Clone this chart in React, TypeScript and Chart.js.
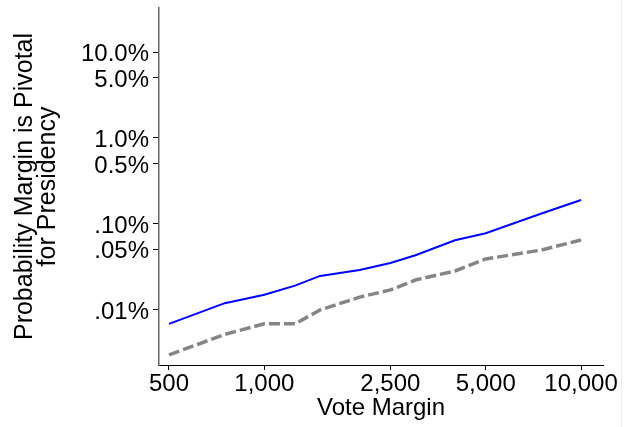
import React, { useEffect, useRef } from "react";
import { Chart, registerables } from "chart.js";

Chart.register(...registerables);

const voteMargins = [500, 750, 1000, 1250, 1500, 2000, 2500, 3000, 4000, 5000, 7500, 10000];
const seriesBlue = [0.0069, 0.0120, 0.0150, 0.0192, 0.0249, 0.0292, 0.0352, 0.0433, 0.0646, 0.0780, 0.1325, 0.1901];
const seriesGray = [0.0030, 0.0052, 0.0069, 0.0069, 0.0100, 0.0141, 0.0171, 0.0223, 0.0284, 0.0392, 0.0498, 0.0651];

const xTickValues = [500, 1000, 2500, 5000, 10000];
const xTickLabels = ["500", "1,000", "2,500", "5,000", "10,000"];
const yTickValues = [0.01, 0.05, 0.1, 0.5, 1, 5, 10];
const yTickLabels = [".01%", ".05%", ".10%", "0.5%", "1.0%", "5.0%", "10.0%"];

const xTitle = "Vote Margin";
const yTitle = ["Probability Margin is Pivotal", "for Presidency"];

const FONT = "'Liberation Sans', Arial, Helvetica, sans-serif";

export default function App() {
  const ref = useRef<HTMLCanvasElement | null>(null);

  useEffect(() => {
    if (!ref.current) return;
    const chart = new Chart(ref.current, {
      type: "line",
      data: {
        datasets: [
          {
            label: "blue",
            data: voteMargins.map((x, i) => ({ x, y: seriesBlue[i] })),
            borderColor: "#0000ff",
            borderWidth: 2,
            pointRadius: 0,
            tension: 0,
          },
          {
            label: "gray",
            data: voteMargins.map((x, i) => ({ x, y: seriesGray[i] })),
            borderColor: "#858585",
            borderWidth: 3.5,
            borderDash: [11, 4],
            pointRadius: 0,
            tension: 0,
          },
        ],
      },
      options: {
        animation: false,
        responsive: true,
        maintainAspectRatio: false,
        layout: { padding: { top: 8, right: 31, left: 0, bottom: 0 } },
        plugins: { legend: { display: false }, tooltip: { enabled: false } },
        scales: {
          x: {
            type: "logarithmic",
            position: "bottom",
            min: 465,
            max: 11730,
            afterBuildTicks: (scale: any) => {
              scale.ticks = xTickValues.map((v) => ({ value: v }));
            },
            afterFit: (scale: any) => {
              scale.height = 62;
              scale.paddingLeft = 0;
              scale.paddingRight = 0;
            },
            ticks: {
              autoSkip: false,
              maxRotation: 0,
              minRotation: 0,
              padding: 2,
              color: "#000",
              font: { family: FONT, size: 24, lineHeight: 1 },
              callback: (value: any) => {
                const i = xTickValues.indexOf(Number(value));
                return i >= 0 ? xTickLabels[i] : "";
              },
            },
            grid: {
              display: true,
              drawOnChartArea: false,
              drawTicks: true,
              tickLength: 5,
              color: "#000",
            },
            border: { display: true, color: "#000", width: 1 },
            title: {
              display: true,
              text: xTitle,
              color: "#000",
              font: { family: FONT, size: 24, lineHeight: 1 },
              padding: { top: 0, bottom: 7 },
            },
          },
          y: {
            type: "logarithmic",
            min: 0.00229,
            max: 32.5,
            afterBuildTicks: (scale: any) => {
              scale.ticks = yTickValues.map((v) => ({ value: v }));
            },
            afterFit: (scale: any) => {
              scale.width = 159;
              scale.paddingTop = 0;
              scale.paddingBottom = 0;
            },
            ticks: {
              autoSkip: false,
              padding: 4,
              labelOffset: 2,
              color: "#000",
              font: { family: FONT, size: 24, lineHeight: 1 },
              callback: (value: any) => {
                const v = Number(value);
                const i = yTickValues.findIndex((t) => Math.abs(t - v) / t < 1e-6);
                return i >= 0 ? yTickLabels[i] : "";
              },
            },
            grid: {
              display: true,
              drawOnChartArea: false,
              drawTicks: true,
              tickLength: 6,
              color: "#000",
            },
            border: { display: true, color: "#666", width: 1.5 },
            title: {
              display: true,
              text: yTitle,
              color: "#000",
              font: { family: FONT, size: 25, lineHeight: 0.94 },
              padding: { top: 13, bottom: 0 },
            },
          },
        },
      },
    });
    return () => chart.destroy();
  }, []);

  return (
    <div style={{ position: "fixed", left: 0, top: 0, width: 634, height: 427, background: "#fff" }}>
      <div style={{ position: "absolute", left: 0, top: 0, width: 634, height: 427 }}>
        <canvas ref={ref} />
      </div>
      <div style={{ position: "absolute", left: 621, top: 0, width: 1, height: 427, background: "#e6eef0" }} />
    </div>
  );
}
